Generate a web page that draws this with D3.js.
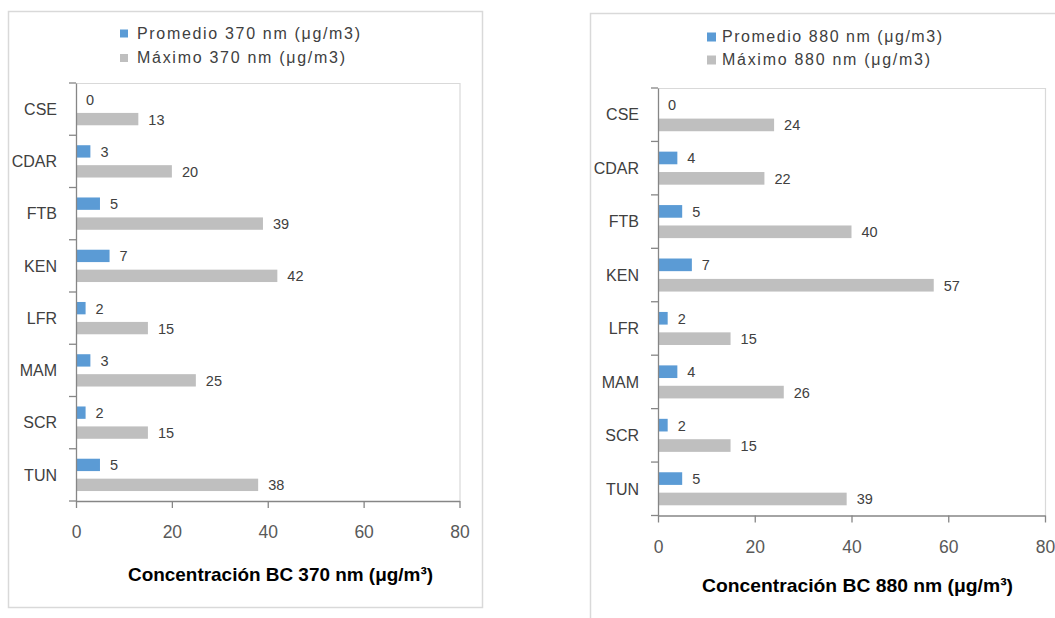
<!DOCTYPE html>
<html>
<head>
<meta charset="utf-8">
<script src="https://cdn.jsdelivr.net/npm/d3@7"></script>
<style>
  html, body { margin: 0; padding: 0; background: #fff; }
  svg { display: block; }
  text { font-family: "Liberation Sans", Arial, sans-serif; }
</style>
</head>
<body>
<svg id="chart" width="1055" height="618"></svg>
<script>
// Stations (top to bottom)
const categories = ["CSE", "CDAR", "FTB", "KEN", "LFR", "MAM", "SCR", "TUN"];

// Black carbon concentration at 370 nm (µg/m3)
const promedio370 = [0, 3, 5, 7, 2, 3, 2, 5];
const maximo370   = [13, 20, 39, 42, 15, 25, 15, 38];

// Black carbon concentration at 880 nm (µg/m3)
const promedio880 = [0, 4, 5, 7, 2, 4, 2, 5];
const maximo880   = [24, 22, 40, 57, 15, 26, 15, 39];

// Value axis ticks
const xTicks = [0, 20, 40, 60, 80];

// Legend and axis texts
const legend370 = ["Promedio 370 nm (\u03bcg/m3)", "M\u00e1ximo 370 nm (\u03bcg/m3)"];
const legend880 = ["Promedio 880 nm (\u03bcg/m3)", "M\u00e1ximo 880 nm (\u03bcg/m3)"];
const title370 = "Concentraci\u00f3n BC 370 nm (\u03bcg/m\u00b3)";
const title880 = "Concentraci\u00f3n BC 880 nm (\u03bcg/m\u00b3)";

const seriesColors = ["#5B9BD5", "#BFBFBF"];
const svg = d3.select("#chart");

function drawPanel(cfg) {
  const g = svg.append("g");

  // chart frame
  g.append("rect")
    .attr("x", cfg.frame[0] + 0.5).attr("y", cfg.frame[1] + 0.5)
    .attr("width", cfg.frame[2]).attr("height", cfg.frame[3])
    .attr("fill", "#fff").attr("stroke", "#D9D9D9").attr("stroke-width", 1.5);

  const x = d3.scaleLinear().domain([0, 80]).range([cfg.left, cfg.right]);
  const y = d3.scaleBand().domain(categories).range([cfg.top, cfg.bottom]).padding(0);
  const sub = d3.scaleBand().domain([0, 1]).range([0, y.bandwidth()])
    .paddingInner(0.38).paddingOuter(0.5);

  // plot area border (top and right)
  g.append("path")
    .attr("d", `M${cfg.left},${cfg.top + 0.5}H${cfg.right + 0.5}V${cfg.bottom}`)
    .attr("fill", "none").attr("stroke", "#D9D9D9").attr("stroke-width", 1.2);

  // bars with value labels
  const series = [cfg.prom, cfg.max];
  series.forEach((vals, si) => {
    g.append("g").selectAll("rect")
      .data(categories)
      .join("rect")
      .attr("x", x(0))
      .attr("y", c => y(c) + sub(si))
      .attr("width", (c, i) => x(vals[i]) - x(0))
      .attr("height", sub.bandwidth())
      .attr("fill", seriesColors[si]);

    g.append("g").selectAll("text")
      .data(categories)
      .join("text")
      .attr("x", (c, i) => x(vals[i]) + 10)
      .attr("y", c => y(c) + sub(si) + sub.bandwidth() / 2 + 5.5)
      .attr("font-size", 14.5)
      .attr("fill", "#404040")
      .text((c, i) => vals[i]);
  });

  // value axis
  const xAxis = g.append("g")
    .attr("transform", `translate(0,${cfg.bottom})`)
    .call(d3.axisBottom(x).tickValues(xTicks).tickSize(7).tickSizeOuter(0).tickPadding(cfg.tickPad));
  xAxis.select(".domain").attr("stroke", "#868686").attr("stroke-width", 1.3);
  xAxis.selectAll(".tick line").attr("stroke", "#868686").attr("stroke-width", 1.3);
  xAxis.selectAll(".tick text")
    .attr("font-size", 17.5).attr("fill", "#595959")
    .attr("font-family", "Liberation Sans, Arial, sans-serif");

  // category axis
  const yAxis = g.append("g")
    .attr("transform", `translate(${cfg.left},0)`)
    .call(d3.axisLeft(y).tickSize(0).tickPadding(19));
  yAxis.select(".domain").attr("stroke", "#868686").attr("stroke-width", 1.3);
  yAxis.selectAll(".tick text")
    .attr("font-size", 16).attr("fill", "#404040")
    .attr("dy", "0.36em")
    .attr("font-family", "Liberation Sans, Arial, sans-serif");

  // category boundary ticks
  const bounds = categories.map(c => y(c)).concat([cfg.bottom]);
  g.append("g").selectAll("line")
    .data(bounds)
    .join("line")
    .attr("x1", cfg.left - 7).attr("x2", cfg.left)
    .attr("y1", d => d).attr("y2", d => d)
    .attr("stroke", "#868686").attr("stroke-width", 1.3);

  // legend
  const lg = g.append("g");
  cfg.legend.forEach((label, i) => {
    const by = cfg.legendBase[i];
    lg.append("rect")
      .attr("x", cfg.legendSq).attr("y", by - 9)
      .attr("width", cfg.sqSize).attr("height", cfg.sqSize)
      .attr("fill", seriesColors[i]);
    lg.append("text")
      .attr("x", cfg.legendX).attr("y", by)
      .attr("font-size", 16).attr("fill", "#404040")
      .attr("textLength", cfg.legendW[i]).attr("lengthAdjust", "spacing")
      .text(label);
  });

  // axis title
  g.append("text")
    .attr("x", cfg.titleX).attr("y", cfg.titleY)
    .attr("font-size", 19).attr("font-weight", "bold").attr("fill", "#000")
    .attr("textLength", cfg.titleW).attr("lengthAdjust", "spacingAndGlyphs")
    .text(cfg.title);
}

drawPanel({
  frame: [8, 11, 474, 596],
  left: 76, right: 459.5, top: 83, bottom: 501,
  prom: promedio370, max: maximo370,
  tickPad: 18,
  legend: legend370, legendSq: 120, sqSize: 8, legendX: 137,
  legendBase: [38.5, 63], legendW: [223, 208],
  title: title370, titleX: 128, titleY: 581, titleW: 305
});

drawPanel({
  frame: [590, 13, 480, 620],
  left: 658, right: 1045, top: 88, bottom: 515.5,
  prom: promedio880, max: maximo880,
  tickPad: 18.5,
  legend: legend880, legendSq: 707, sqSize: 9, legendX: 722,
  legendBase: [41.5, 64.5], legendW: [220, 208],
  title: title880, titleX: 702, titleY: 592, titleW: 311
});
</script>
</body>
</html>
